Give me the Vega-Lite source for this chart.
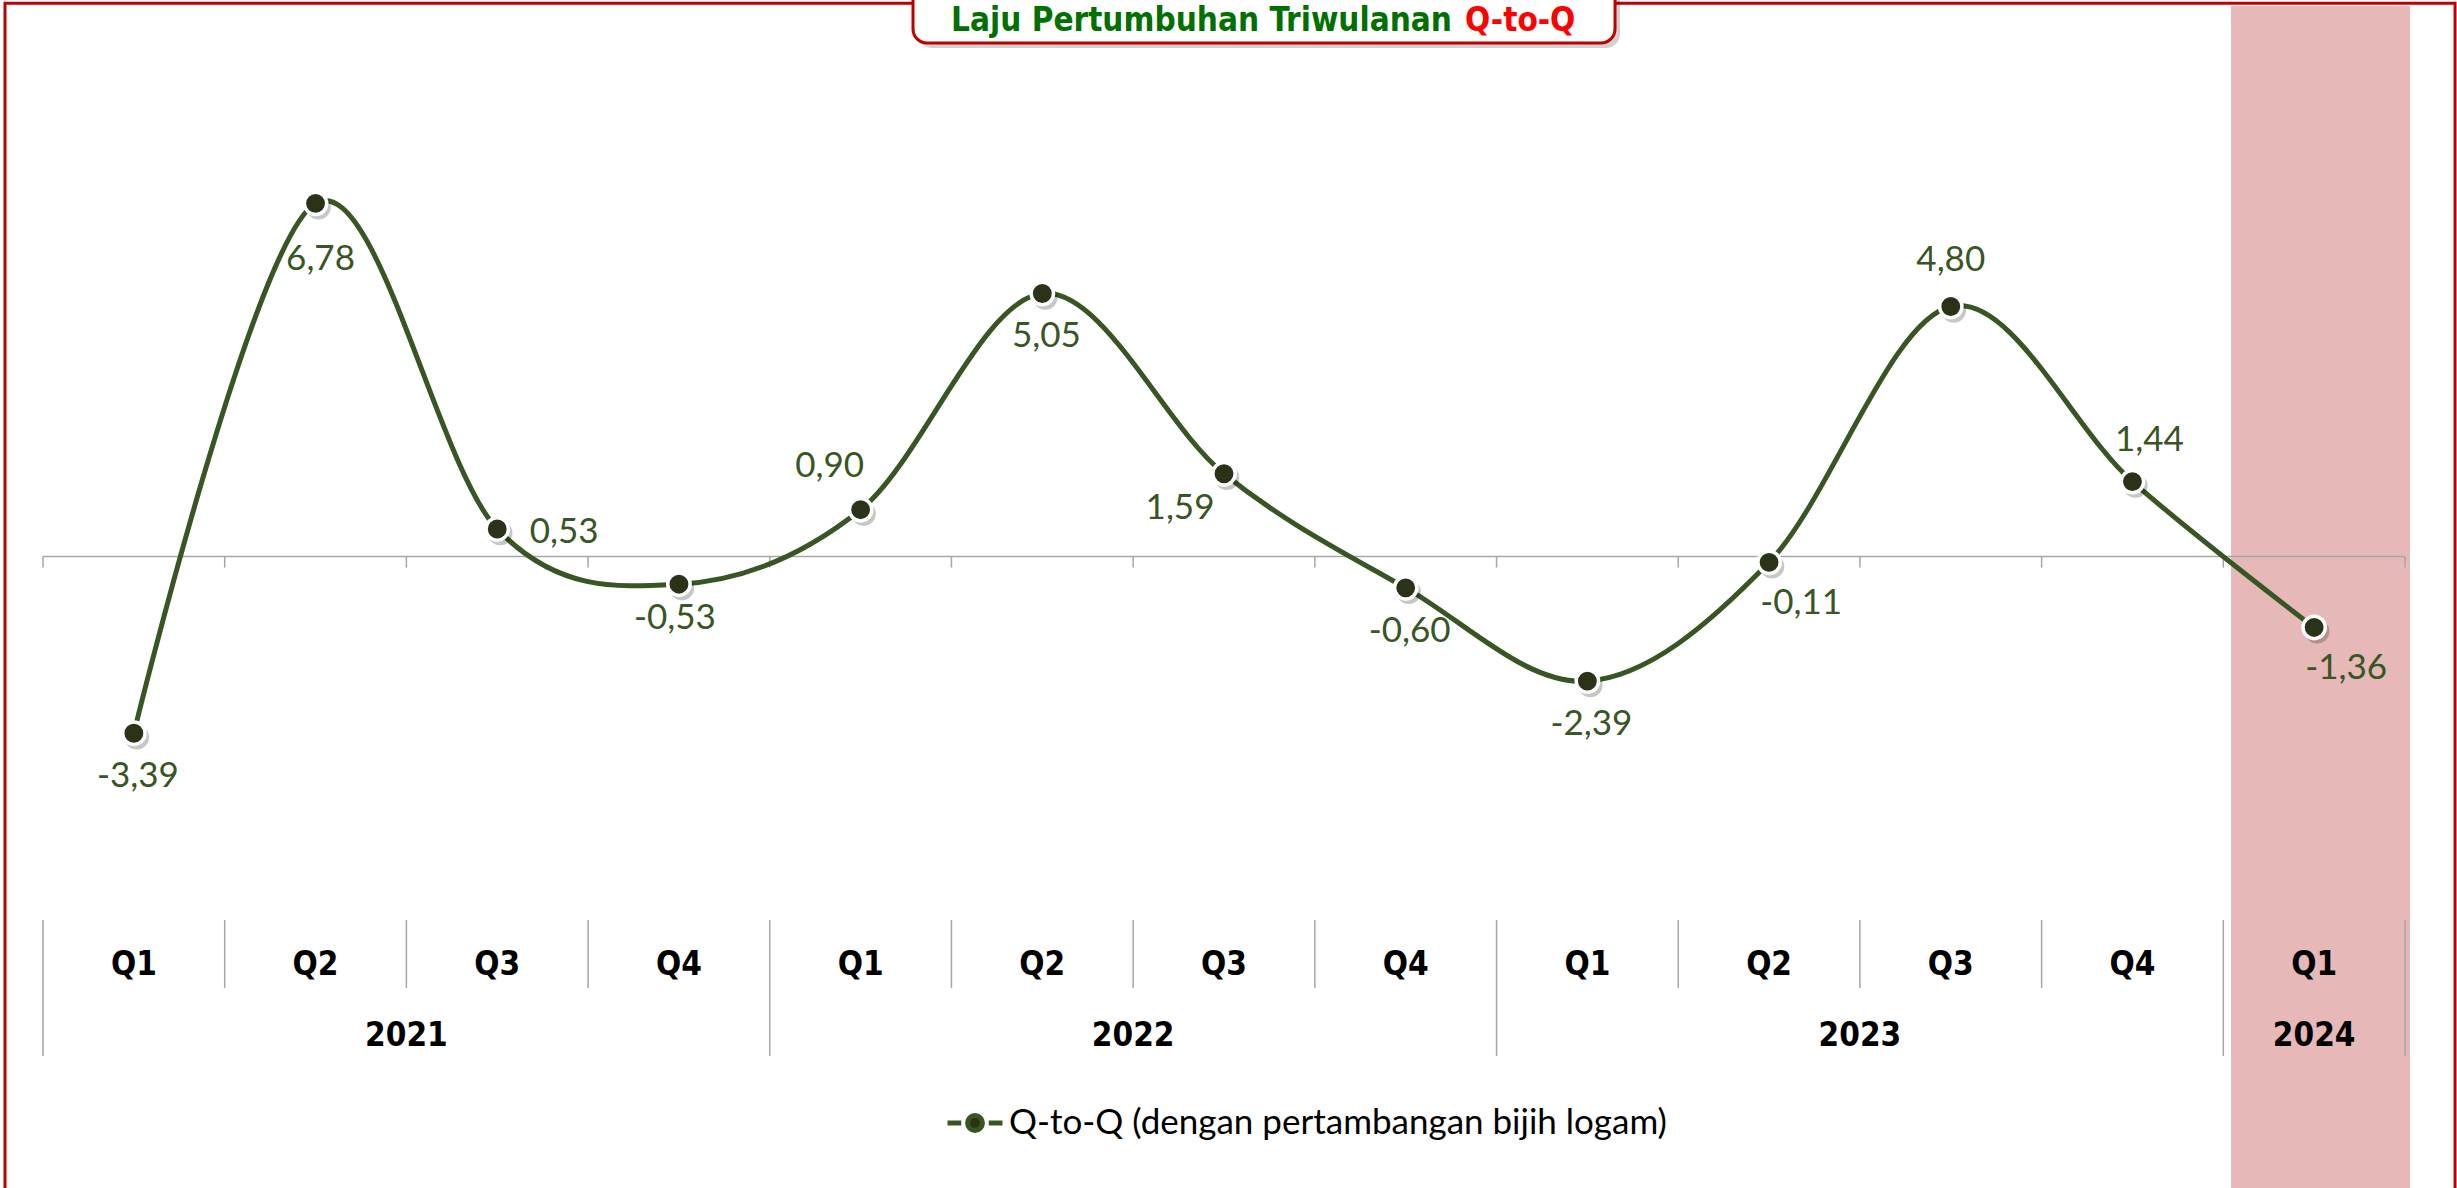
{
  "$schema": "https://vega.github.io/schema/vega-lite/v6.json",
  "width": 2457,
  "height": 1188,
  "autosize": {"type": "none"},
  "padding": 0,
  "background": "white",
  "config": {"view": {"stroke": null}},
  "data": {
    "values": [
      {"period": 1, "quarter": "Q1", "year": "2021", "value": -3.39, "label": "-3,39", "pos": "b", "series": "Q-to-Q (dengan pertambangan bijih logam)"},
      {"period": 2, "quarter": "Q2", "year": "2021", "value": 6.78, "label": "6,78", "pos": "b2", "series": "Q-to-Q (dengan pertambangan bijih logam)"},
      {"period": 3, "quarter": "Q3", "year": "2021", "value": 0.53, "label": "0,53", "pos": "r", "series": "Q-to-Q (dengan pertambangan bijih logam)"},
      {"period": 4, "quarter": "Q4", "year": "2021", "value": -0.53, "label": "-0,53", "pos": "b3", "series": "Q-to-Q (dengan pertambangan bijih logam)"},
      {"period": 5, "quarter": "Q1", "year": "2022", "value": 0.90, "label": "0,90", "pos": "al", "series": "Q-to-Q (dengan pertambangan bijih logam)"},
      {"period": 6, "quarter": "Q2", "year": "2022", "value": 5.05, "label": "5,05", "pos": "b", "series": "Q-to-Q (dengan pertambangan bijih logam)"},
      {"period": 7, "quarter": "Q3", "year": "2022", "value": 1.59, "label": "1,59", "pos": "bl", "series": "Q-to-Q (dengan pertambangan bijih logam)"},
      {"period": 8, "quarter": "Q4", "year": "2022", "value": -0.60, "label": "-0,60", "pos": "b", "series": "Q-to-Q (dengan pertambangan bijih logam)"},
      {"period": 9, "quarter": "Q1", "year": "2023", "value": -2.39, "label": "-2,39", "pos": "b", "series": "Q-to-Q (dengan pertambangan bijih logam)"},
      {"period": 10, "quarter": "Q2", "year": "2023", "value": -0.11, "label": "-0,11", "pos": "br", "series": "Q-to-Q (dengan pertambangan bijih logam)"},
      {"period": 11, "quarter": "Q3", "year": "2023", "value": 4.80, "label": "4,80", "pos": "a", "series": "Q-to-Q (dengan pertambangan bijih logam)"},
      {"period": 12, "quarter": "Q4", "year": "2023", "value": 1.44, "label": "1,44", "pos": "ar", "series": "Q-to-Q (dengan pertambangan bijih logam)"},
      {"period": 13, "quarter": "Q1", "year": "2024", "value": -1.36, "label": "-1,36", "pos": "br", "series": "Q-to-Q (dengan pertambangan bijih logam)"}
    ]
  },
  "layer": [
    {
      "data": {"values": [{}]},
      "mark": {"type": "rect", "fill": "#e6b8b7"},
      "encoding": {
        "x": {"datum": 12.5425, "type": "quantitative", "scale": {"domain": [0.2633, 13.7862], "nice": false, "zero": false}, "axis": null},
        "x2": {"datum": 13.5277},
        "y": {"datum": 10.568, "type": "quantitative", "scale": {"domain": [-12.119, 10.683], "nice": false, "zero": false}, "axis": null},
        "y2": {"datum": -13}
      }
    },
    {
      "data": {"values": [{}]},
      "mark": {"type": "rect", "fill": null, "fillOpacity": 0, "stroke": "#c00000", "strokeWidth": 3},
      "encoding": {
        "x": {"datum": 0.2908, "type": "quantitative", "scale": {"domain": [0.2633, 13.7862], "nice": false, "zero": false}, "axis": null},
        "x2": {"datum": 13.7754},
        "y": {"datum": 10.620, "type": "quantitative", "scale": {"domain": [-12.119, 10.683], "nice": false, "zero": false}, "axis": null},
        "y2": {"datum": -13}
      }
    },
    {
      "data": {"values": [{}]},
      "mark": {"type": "rect", "fill": "#000000", "opacity": 0.18, "cornerRadius": 14},
      "encoding": {
        "x": {"datum": 5.3158, "type": "quantitative", "scale": {"domain": [0.2633, 13.7862], "nice": false, "zero": false}, "axis": null},
        "x2": {"datum": 9.1796},
        "y": {"datum": 10.95, "type": "quantitative", "scale": {"domain": [-12.119, 10.683], "nice": false, "zero": false}, "axis": null},
        "y2": {"datum": 9.76}
      }
    },
    {
      "data": {"values": [{}]},
      "mark": {"type": "rect", "fill": "#ffffff", "stroke": "#c00000", "strokeWidth": 3, "cornerRadius": 14},
      "encoding": {
        "x": {"datum": 5.2884, "type": "quantitative", "scale": {"domain": [0.2633, 13.7862], "nice": false, "zero": false}, "axis": null},
        "x2": {"datum": 9.1521},
        "y": {"datum": 10.95, "type": "quantitative", "scale": {"domain": [-12.119, 10.683], "nice": false, "zero": false}, "axis": null},
        "y2": {"datum": 9.858}
      }
    },
    {
      "data": {"values": [{"t": "Laju Pertumbuhan Triwulanan"}]},
      "mark": {"type": "text", "align": "right", "baseline": "alphabetic", "font": "DejaVu Sans Condensed, sans-serif", "fontWeight": "bold", "fontSize": 33, "fill": "#007000"},
      "encoding": {
        "x": {"datum": 8.2549, "type": "quantitative", "scale": {"domain": [0.2633, 13.7862], "nice": false, "zero": false}, "axis": null},
        "y": {"datum": 10.088, "type": "quantitative", "scale": {"domain": [-12.119, 10.683], "nice": false, "zero": false}, "axis": null},
        "text": {"field": "t"}
      }
    },
    {
      "data": {"values": [{"t": "Q-to-Q"}]},
      "mark": {"type": "text", "align": "left", "baseline": "alphabetic", "font": "DejaVu Sans Condensed, sans-serif", "fontWeight": "bold", "fontSize": 33, "fill": "#ff0000"},
      "encoding": {
        "x": {"datum": 8.3265, "type": "quantitative", "scale": {"domain": [0.2633, 13.7862], "nice": false, "zero": false}, "axis": null},
        "y": {"datum": 10.088, "type": "quantitative", "scale": {"domain": [-12.119, 10.683], "nice": false, "zero": false}, "axis": null},
        "text": {"field": "t"}
      }
    },
    {
      "data": {"values": [{}]},
      "mark": {"type": "rule", "stroke": "#a6a6a6", "strokeWidth": 1.5},
      "encoding": {
        "x": {"datum": 0.5, "type": "quantitative", "scale": {"domain": [0.2633, 13.7862], "nice": false, "zero": false}, "axis": null},
        "x2": {"datum": 13.5},
        "y": {"datum": 0, "type": "quantitative", "scale": {"domain": [-12.119, 10.683], "nice": false, "zero": false}, "axis": null}
      }
    },
    {
      "mark": {"type": "rule", "stroke": "#a6a6a6", "strokeWidth": 1.5, "xOffset": -90.85},
      "encoding": {
        "x": {"field": "period", "type": "quantitative", "scale": {"domain": [0.2633, 13.7862], "nice": false, "zero": false}, "axis": null},
        "y": {"datum": 0, "type": "quantitative", "scale": {"domain": [-12.119, 10.683], "nice": false, "zero": false}, "axis": null},
        "y2": {"datum": -0.211}
      }
    },
    {
      "data": {"values": [{}]},
      "mark": {"type": "rule", "stroke": "#a6a6a6", "strokeWidth": 1.5},
      "encoding": {
        "x": {"datum": 13.5, "type": "quantitative", "scale": {"domain": [0.2633, 13.7862], "nice": false, "zero": false}, "axis": null},
        "y": {"datum": 0, "type": "quantitative", "scale": {"domain": [-12.119, 10.683], "nice": false, "zero": false}, "axis": null},
        "y2": {"datum": -0.211}
      }
    },
    {
      "transform": [{"filter": "datum.quarter !== 'Q1'"}],
      "mark": {"type": "rule", "stroke": "#a6a6a6", "strokeWidth": 1.5, "xOffset": -90.85},
      "encoding": {
        "x": {"field": "period", "type": "quantitative", "scale": {"domain": [0.2633, 13.7862], "nice": false, "zero": false}, "axis": null},
        "y": {"datum": -6.975, "type": "quantitative", "scale": {"domain": [-12.119, 10.683], "nice": false, "zero": false}, "axis": null},
        "y2": {"datum": -8.28}
      }
    },
    {
      "transform": [{"filter": "datum.quarter === 'Q1'"}],
      "mark": {"type": "rule", "stroke": "#a6a6a6", "strokeWidth": 1.5, "xOffset": -90.85},
      "encoding": {
        "x": {"field": "period", "type": "quantitative", "scale": {"domain": [0.2633, 13.7862], "nice": false, "zero": false}, "axis": null},
        "y": {"datum": -6.975, "type": "quantitative", "scale": {"domain": [-12.119, 10.683], "nice": false, "zero": false}, "axis": null},
        "y2": {"datum": -9.585}
      }
    },
    {
      "data": {"values": [{}]},
      "mark": {"type": "rule", "stroke": "#a6a6a6", "strokeWidth": 1.5},
      "encoding": {
        "x": {"datum": 13.5, "type": "quantitative", "scale": {"domain": [0.2633, 13.7862], "nice": false, "zero": false}, "axis": null},
        "y": {"datum": -6.975, "type": "quantitative", "scale": {"domain": [-12.119, 10.683], "nice": false, "zero": false}, "axis": null},
        "y2": {"datum": -9.585}
      }
    },
    {
      "mark": {"type": "text", "align": "center", "baseline": "alphabetic", "font": "DejaVu Sans Condensed, sans-serif", "fontWeight": "bold", "fontSize": 33, "fill": "#000000"},
      "encoding": {
        "x": {"field": "period", "type": "quantitative", "scale": {"domain": [0.2633, 13.7862], "nice": false, "zero": false}, "axis": null},
        "y": {"datum": -8.031, "type": "quantitative", "scale": {"domain": [-12.119, 10.683], "nice": false, "zero": false}, "axis": null},
        "text": {"field": "quarter"}
      }
    },
    {
      "transform": [{"aggregate": [{"op": "mean", "field": "period", "as": "center"}], "groupby": ["year"]}],
      "mark": {"type": "text", "align": "center", "baseline": "alphabetic", "font": "DejaVu Sans Condensed, sans-serif", "fontWeight": "bold", "fontSize": 33, "fill": "#000000"},
      "encoding": {
        "x": {"field": "center", "type": "quantitative", "scale": {"domain": [0.2633, 13.7862], "nice": false, "zero": false}, "axis": null},
        "y": {"datum": -9.395, "type": "quantitative", "scale": {"domain": [-12.119, 10.683], "nice": false, "zero": false}, "axis": null},
        "text": {"field": "year"}
      }
    },
    {
      "mark": {"type": "line", "interpolate": "cardinal", "strokeWidth": 5},
      "encoding": {
        "x": {"field": "period", "type": "quantitative", "scale": {"domain": [0.2633, 13.7862], "nice": false, "zero": false}, "axis": null},
        "y": {"field": "value", "type": "quantitative", "scale": {"domain": [-12.119, 10.683], "nice": false, "zero": false}, "axis": null},
        "color": {
          "field": "series",
          "type": "nominal",
          "scale": {"range": ["#375623"]},
          "legend": {
            "orient": "none",
            "legendX": 945,
            "legendY": 1093,
            "title": null,
            "padding": 0,
            "labelFont": "Lato",
            "labelFontSize": 35,
            "labelColor": "#000000",
            "labelOffset": 4,
            "labelLimit": 1200,
            "symbolSize": 3025,
            "symbolType": "M-1,0H-0.5M0.5,0H1M-0.27,0A0.27,0.27 0 1,0 0.27,0A0.27,0.27 0 1,0 -0.27,0Z",
            "symbolStrokeWidth": 5,
            "symbolFillColor": "#2a3317",
            "symbolStrokeColor": "#375623",
            "encode": {
              "symbols": {
                "update": {
                  "fill": {"value": "#2a3317"},
                  "stroke": {"value": "#375623"},
                  "strokeWidth": {"value": 5},
                  "opacity": {"value": 1},
                  "shape": {"value": "M-1,0H-0.5M0.5,0H1M-0.27,0A0.27,0.27 0 1,0 0.27,0A0.27,0.27 0 1,0 -0.27,0Z"}
                }
              }
            }
          }
        }
      }
    },
    {
      "mark": {"type": "point", "filled": true, "shape": "circle", "size": 600, "color": "#000000", "opacity": 0.22, "xOffset": 3, "yOffset": 4},
      "encoding": {
        "x": {"field": "period", "type": "quantitative", "scale": {"domain": [0.2633, 13.7862], "nice": false, "zero": false}, "axis": null},
        "y": {"field": "value", "type": "quantitative", "scale": {"domain": [-12.119, 10.683], "nice": false, "zero": false}, "axis": null}
      }
    },
    {
      "mark": {"type": "point", "filled": true, "shape": "circle", "size": 500, "fill": "#2a3317", "stroke": "#ffffff", "strokeWidth": 3.5, "opacity": 1},
      "encoding": {
        "x": {"field": "period", "type": "quantitative", "scale": {"domain": [0.2633, 13.7862], "nice": false, "zero": false}, "axis": null},
        "y": {"field": "value", "type": "quantitative", "scale": {"domain": [-12.119, 10.683], "nice": false, "zero": false}, "axis": null}
      }
    },
    {"transform": [{"filter": "datum.pos === 'b'"}], "mark": {"type": "text", "align": "center", "baseline": "middle", "font": "Lato", "fontSize": 35, "fill": "#375623", "dx": 4, "dy": 43},
      "encoding": {"x": {"field": "period", "type": "quantitative", "scale": {"domain": [0.2633, 13.7862], "nice": false, "zero": false}, "axis": null}, "y": {"field": "value", "type": "quantitative", "scale": {"domain": [-12.119, 10.683], "nice": false, "zero": false}, "axis": null}, "text": {"field": "label"}}},
    {"transform": [{"filter": "datum.pos === 'b2'"}], "mark": {"type": "text", "align": "center", "baseline": "middle", "font": "Lato", "fontSize": 35, "fill": "#375623", "dx": 5, "dy": 56},
      "encoding": {"x": {"field": "period", "type": "quantitative", "scale": {"domain": [0.2633, 13.7862], "nice": false, "zero": false}, "axis": null}, "y": {"field": "value", "type": "quantitative", "scale": {"domain": [-12.119, 10.683], "nice": false, "zero": false}, "axis": null}, "text": {"field": "label"}}},
    {"transform": [{"filter": "datum.pos === 'b3'"}], "mark": {"type": "text", "align": "center", "baseline": "middle", "font": "Lato", "fontSize": 35, "fill": "#375623", "dx": -4, "dy": 34},
      "encoding": {"x": {"field": "period", "type": "quantitative", "scale": {"domain": [0.2633, 13.7862], "nice": false, "zero": false}, "axis": null}, "y": {"field": "value", "type": "quantitative", "scale": {"domain": [-12.119, 10.683], "nice": false, "zero": false}, "axis": null}, "text": {"field": "label"}}},
    {"transform": [{"filter": "datum.pos === 'r'"}], "mark": {"type": "text", "align": "center", "baseline": "middle", "font": "Lato", "fontSize": 35, "fill": "#375623", "dx": 67, "dy": 3},
      "encoding": {"x": {"field": "period", "type": "quantitative", "scale": {"domain": [0.2633, 13.7862], "nice": false, "zero": false}, "axis": null}, "y": {"field": "value", "type": "quantitative", "scale": {"domain": [-12.119, 10.683], "nice": false, "zero": false}, "axis": null}, "text": {"field": "label"}}},
    {"transform": [{"filter": "datum.pos === 'al'"}], "mark": {"type": "text", "align": "center", "baseline": "middle", "font": "Lato", "fontSize": 35, "fill": "#375623", "dx": -31, "dy": -44},
      "encoding": {"x": {"field": "period", "type": "quantitative", "scale": {"domain": [0.2633, 13.7862], "nice": false, "zero": false}, "axis": null}, "y": {"field": "value", "type": "quantitative", "scale": {"domain": [-12.119, 10.683], "nice": false, "zero": false}, "axis": null}, "text": {"field": "label"}}},
    {"transform": [{"filter": "datum.pos === 'bl'"}], "mark": {"type": "text", "align": "center", "baseline": "middle", "font": "Lato", "fontSize": 35, "fill": "#375623", "dx": -44, "dy": 34},
      "encoding": {"x": {"field": "period", "type": "quantitative", "scale": {"domain": [0.2633, 13.7862], "nice": false, "zero": false}, "axis": null}, "y": {"field": "value", "type": "quantitative", "scale": {"domain": [-12.119, 10.683], "nice": false, "zero": false}, "axis": null}, "text": {"field": "label"}}},
    {"transform": [{"filter": "datum.pos === 'br'"}], "mark": {"type": "text", "align": "center", "baseline": "middle", "font": "Lato", "fontSize": 35, "fill": "#375623", "dx": 32, "dy": 41},
      "encoding": {"x": {"field": "period", "type": "quantitative", "scale": {"domain": [0.2633, 13.7862], "nice": false, "zero": false}, "axis": null}, "y": {"field": "value", "type": "quantitative", "scale": {"domain": [-12.119, 10.683], "nice": false, "zero": false}, "axis": null}, "text": {"field": "label"}}},
    {"transform": [{"filter": "datum.pos === 'a'"}], "mark": {"type": "text", "align": "center", "baseline": "middle", "font": "Lato", "fontSize": 35, "fill": "#375623", "dx": 0, "dy": -47},
      "encoding": {"x": {"field": "period", "type": "quantitative", "scale": {"domain": [0.2633, 13.7862], "nice": false, "zero": false}, "axis": null}, "y": {"field": "value", "type": "quantitative", "scale": {"domain": [-12.119, 10.683], "nice": false, "zero": false}, "axis": null}, "text": {"field": "label"}}},
    {"transform": [{"filter": "datum.pos === 'ar'"}], "mark": {"type": "text", "align": "center", "baseline": "middle", "font": "Lato", "fontSize": 35, "fill": "#375623", "dx": 17, "dy": -42},
      "encoding": {"x": {"field": "period", "type": "quantitative", "scale": {"domain": [0.2633, 13.7862], "nice": false, "zero": false}, "axis": null}, "y": {"field": "value", "type": "quantitative", "scale": {"domain": [-12.119, 10.683], "nice": false, "zero": false}, "axis": null}, "text": {"field": "label"}}}
  ]
}
